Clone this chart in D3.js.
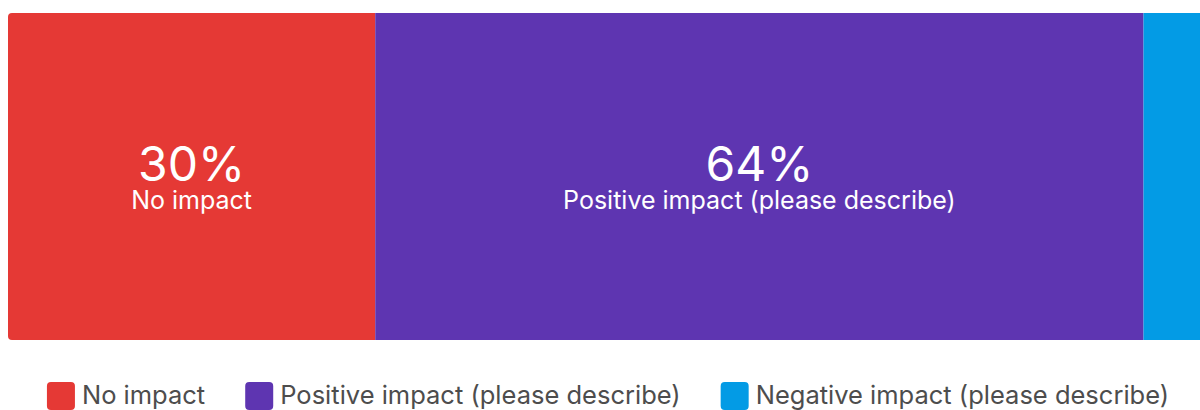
<!DOCTYPE html>
<html>
<head>
<meta charset="utf-8">
<script src="https://cdn.jsdelivr.net/npm/d3@7"></script>
<style>
  body { margin: 0; background: #fff; }
  svg { display: block; font-family: Inter, "Open Sans", sans-serif; }
</style>
</head>
<body>
<svg id="chart" width="1200" height="410"></svg>
<script>
// answer categories and their shares (percent)
var categories = ["No impact", "Positive impact (please describe)", "Negative impact (please describe)"];
var shares = [30.4, 63.6, 6.0];
var colors = ["#e53935", "#5e35b1", "#039be5"];

var svg = d3.select("#chart");

// bar runs a little past the right edge of the window
var x = d3.scaleLinear().domain([0, d3.sum(shares)]).range([8, 1216]);
var barTop = 13, barH = 327;

var stacked = [];
var acc = 0;
shares.forEach(function (v, i) {
  stacked.push({ name: categories[i], value: v, x0: acc, x1: acc + v, color: colors[i] });
  acc += v;
});

svg.append("clipPath").attr("id", "barClip")
  .append("rect")
  .attr("x", x(0)).attr("y", barTop)
  .attr("width", x(acc) - x(0)).attr("height", barH)
  .attr("rx", 4);

var bars = svg.append("g").attr("clip-path", "url(#barClip)");
bars.selectAll("rect")
  .data(stacked)
  .enter().append("rect")
  .attr("x", function (d) { return x(d.x0); })
  .attr("y", barTop)
  .attr("width", function (d) { return x(d.x1) - x(d.x0); })
  .attr("height", barH)
  .attr("fill", function (d) { return d.color; });

// labels for the wide segments only
var lab = svg.selectAll(".seglabel")
  .data(stacked.filter(function (d) { return d.value > 10; }))
  .enter().append("g")
  .attr("class", "seglabel")
  .attr("transform", function (d) { return "translate(" + (x(d.x0) + x(d.x1)) / 2 + ",0)"; });
lab.append("text")
  .attr("y", 181)
  .attr("text-anchor", "middle")
  .attr("fill", "#fff")
  .style("font-size", "48px")
  .text(function (d) { return Math.round(d.value) + "%"; });
lab.append("text")
  .attr("y", 209)
  .attr("text-anchor", "middle")
  .attr("fill", "#fff")
  .style("font-size", "25px")
  .text(function (d) { return d.name; });

// legend, centred under the bar
var legend = svg.append("g");
var items = legend.selectAll("g")
  .data(stacked)
  .enter().append("g");
items.append("rect")
  .attr("y", 382).attr("width", 28).attr("height", 28).attr("rx", 4)
  .attr("fill", function (d) { return d.color; });
items.append("text")
  .attr("x", 35).attr("y", 404)
  .attr("fill", "#4d4d4d")
  .style("font-size", "25.5px")
  .text(function (d) { return d.name; });

var gap = 40;
var pos = 0, offsets = [];
items.each(function () {
  offsets.push(pos);
  pos += 35 + d3.select(this).select("text").node().getComputedTextLength() + gap;
});
var total = pos - gap;
var start = 608 - total / 2;
items.attr("transform", function (d, i) { return "translate(" + (start + offsets[i]) + ",0)"; });
</script>
</body>
</html>
